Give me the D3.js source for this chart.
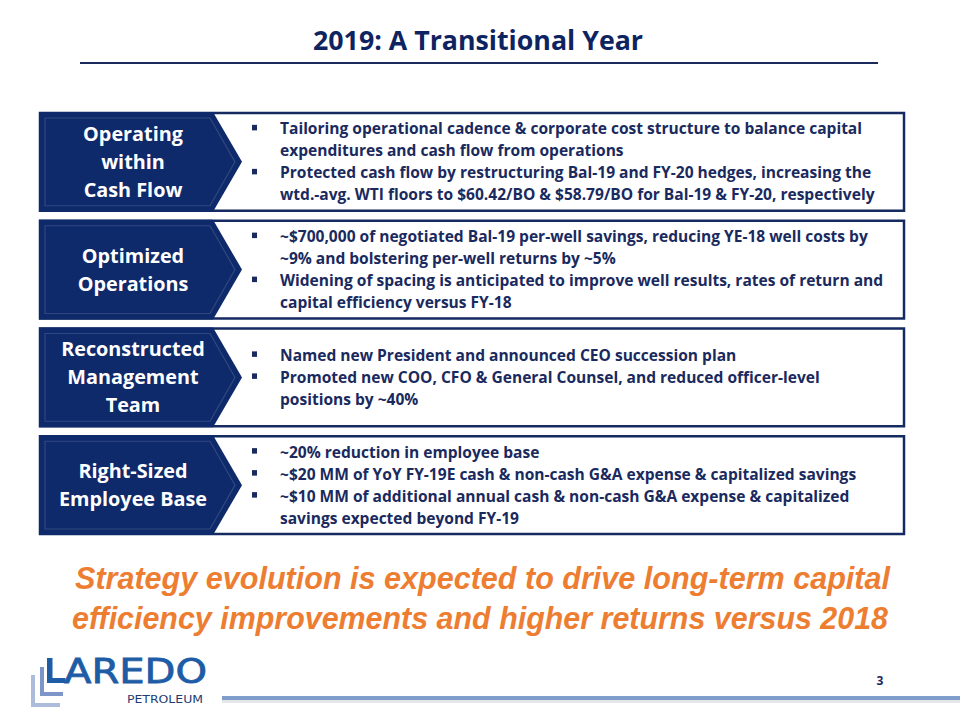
<!DOCTYPE html>
<html><head><meta charset="utf-8">
<script src="https://cdn.jsdelivr.net/npm/d3@7"></script>
<style>body{margin:0;background:#fff}svg{display:block}</style>
</head><body>
<script>
// ---- content ----
const title = "2019: A Transitional Year";
const categories = ["Operating within Cash Flow", "Optimized Operations", "Reconstructed Management Team", "Right-Sized Employee Base"];
const categoryLines = [["Operating", "within", "Cash Flow"], ["Optimized", "Operations"], ["Reconstructed", "Management", "Team"], ["Right-Sized", "Employee Base"]];
const bulletsRow1 = [
  ["Tailoring operational cadence & corporate cost structure to balance capital", "expenditures and cash flow from operations"],
  ["Protected cash flow by restructuring Bal-19 and FY-20 hedges, increasing the", "wtd.-avg. WTI floors to $60.42/BO & $58.79/BO for Bal-19 & FY-20, respectively"]
];
const bulletsRow2 = [
  ["~$700,000 of negotiated Bal-19 per-well savings, reducing YE-18 well costs by", "~9% and bolstering per-well returns by ~5%"],
  ["Widening of spacing is anticipated to improve well results, rates of return and", "capital efficiency versus FY-18"]
];
const bulletsRow3 = [
  ["Named new President and announced CEO succession plan"],
  ["Promoted new COO, CFO & General Counsel, and reduced officer-level", "positions by ~40%"]
];
const bulletsRow4 = [
  ["~20% reduction in employee base"],
  ["~$20 MM of YoY FY-19E cash & non-cash G&A expense & capitalized savings"],
  ["~$10 MM of additional annual cash & non-cash G&A expense & capitalized", "savings expected beyond FY-19"]
];
const bullets = [bulletsRow1, bulletsRow2, bulletsRow3, bulletsRow4];
const conclusion = ["Strategy evolution is expected to drive long-term capital", "efficiency improvements and higher returns versus 2018"];
const logoWord = "AREDO";
const logoSub = "PETROLEUM";
const pageNumber = "3";

// ---- drawing ----
const W = 960, H = 720;
const NAVY = "#0f2a6b", TXT = "#1a2a5e", ORANGE = "#ed7d31", LOGO = "#1f5ca6";
const FONT = "'Open Sans', sans-serif";

const svg = d3.select("body").append("svg").attr("width", W).attr("height", H);

// title
svg.append("text").attr("x", 478).attr("y", 50).attr("text-anchor", "middle")
  .attr("font-family", FONT).attr("font-weight", 700).attr("font-size", 26.5)
  .attr("fill", "#0e2461").attr("textLength", 330).attr("lengthAdjust", "spacingAndGlyphs").text(title);
svg.append("line").attr("x1", 80).attr("x2", 878).attr("y1", 63).attr("y2", 63)
  .attr("stroke", "#1b2a5c").attr("stroke-width", 2.2);

// rows
const y = d3.scaleBand().domain(categories).range([113, 534]).paddingInner(0.093).paddingOuter(0);
const x = d3.scaleLinear().domain([0, 1]).range([40, 904]);
const chevR = 213, chevP = 242;

const rows = svg.selectAll("g.row").data(categories).join("g").attr("class", "row");

rows.append("rect")
  .attr("x", x(0)).attr("y", d => y(d)).attr("width", x(1) - x(0)).attr("height", y.bandwidth())
  .attr("fill", "#fff").attr("stroke", "#142a60").attr("stroke-width", 2.5);

rows.append("path")
  .attr("d", d => {
    const t0 = y(d) - 1, b0 = y(d) + y.bandwidth() + 1, m = (t0 + b0) / 2;
    return `M${x(0) - 1},${t0}L${chevR},${t0}L${chevP},${m}L${chevR},${b0}L${x(0) - 1},${b0}Z`;
  })
  .attr("fill", NAVY);
rows.append("path")
  .attr("d", d => {
    const t0 = y(d) + 5, b0 = y(d) + y.bandwidth() - 5, m = (t0 + b0) / 2;
    return `M${x(0) + 5},${t0}L${chevR - 3},${t0}L${chevP - 7},${m}L${chevR - 3},${b0}L${x(0) + 5},${b0}Z`;
  })
  .attr("fill", "none").attr("stroke", "#30487f").attr("stroke-width", 1.2);

// labels
const labelNodes = [];
rows.each(function (d, i) {
  const g = d3.select(this);
  const lines = categoryLines[i];
  const c = y(d) + y.bandwidth() / 2;
  const lh = 28;
  lines.forEach((ln, j) => {
    const node = g.append("text").attr("x", 133)
      .attr("y", c + (j - (lines.length - 1) / 2) * lh + 7)
      .attr("text-anchor", "middle").attr("font-family", FONT).attr("font-weight", 700)
      .attr("font-size", 20).attr("fill", "#fff").text(ln);
    labelNodes.push(node);
  });
});

// bullets
const bulletNodes = [];
rows.each(function (d, i) {
  const g = d3.select(this);
  const items = bullets[i];
  const nLines = d3.sum(items, it => it.length);
  const c = y(d) + y.bandwidth() / 2;
  const lh = 22;
  let k = 0;
  items.forEach(it => {
    it.forEach((ln, j) => {
      const base = c + (k - (nLines - 1) / 2) * lh + 5.5;
      if (j === 0) {
        g.append("rect").attr("x", 252).attr("y", base - 9.5).attr("width", 5).attr("height", 5.5).attr("fill", TXT);
      }
      const node = g.append("text").attr("x", 280).attr("y", base)
        .attr("font-family", FONT).attr("font-weight", 700).attr("font-size", 16)
        .attr("fill", TXT).text(ln);
      bulletNodes.push(node);
      k++;
    });
  });
});

// condense bullet text uniformly to match reference width
const refW = bulletNodes[0].node().getComputedTextLength();
const kB = 582 / refW;
bulletNodes.forEach(n => {
  const w = n.node().getComputedTextLength();
  n.attr("textLength", w * kB).attr("lengthAdjust", "spacingAndGlyphs");
});
const refL = labelNodes[labelNodes.length - 1].node().getComputedTextLength();
const kL = 148 / refL;
labelNodes.forEach(n => {
  const w = n.node().getComputedTextLength();
  n.attr("textLength", w * kL).attr("lengthAdjust", "spacingAndGlyphs");
});

// conclusion
const concl = [[75, 589, 815], [72, 629, 816]];
conclusion.forEach((ln, i) => {
  svg.append("text").attr("x", concl[i][0]).attr("y", concl[i][1])
    .attr("font-family", "'Liberation Sans', Arial, sans-serif").attr("font-weight", 700)
    .attr("font-style", "italic").attr("font-size", 32).attr("fill", ORANGE)
    .attr("textLength", concl[i][2]).attr("lengthAdjust", "spacingAndGlyphs").text(ln);
});

// logo
const lg = svg.append("g");
lg.append("path").attr("d", "M31,675h4v28h25v4h-29z").attr("fill", "#aebcdc");
lg.append("path").attr("d", "M40,667h4v25h19v4h-23z").attr("fill", "#7d96c9");
lg.append("path").attr("d", "M47,658h5.5v20h13v5h-18.5z").attr("fill", LOGO);
lg.append("text").attr("x", 64).attr("y", 683).attr("font-family", "'DejaVu Sans', sans-serif")
  .attr("font-size", 34).attr("fill", LOGO).attr("stroke", LOGO).attr("stroke-width", 0.8)
  .attr("textLength", 143).attr("lengthAdjust", "spacingAndGlyphs")
  .text(logoWord);
lg.append("text").attr("x", 127).attr("y", 703).attr("font-family", "'DejaVu Sans', sans-serif")
  .attr("font-size", 10).attr("fill", "#1e3d73").attr("textLength", 76).attr("lengthAdjust", "spacingAndGlyphs")
  .text(logoSub);

// footer line
svg.append("rect").attr("x", 222).attr("y", 699).attr("width", 738).attr("height", 4).attr("fill", "#e4e6ea");
svg.append("rect").attr("x", 222).attr("y", 696).attr("width", 738).attr("height", 4).attr("fill", "#7f9ccb");
svg.append("text").attr("x", 880).attr("y", 685).attr("text-anchor", "middle")
  .attr("font-family", FONT).attr("font-weight", 700).attr("font-size", 12).attr("fill", TXT).text(pageNumber);
</script>
</body></html>
